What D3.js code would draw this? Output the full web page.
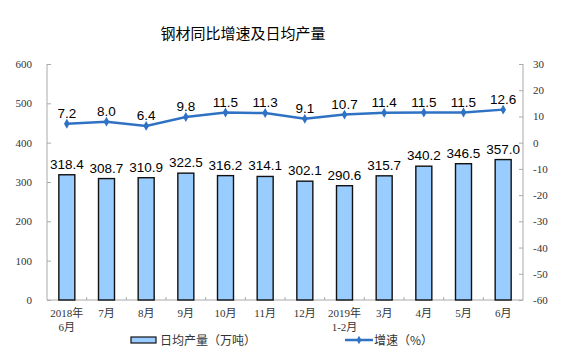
<!DOCTYPE html>
<html>
<head>
<meta charset="utf-8">
<script src="https://cdn.jsdelivr.net/npm/d3@7"></script>
<style>
  body { margin: 0; background: #fff; }
  .tick text { font-family: "Liberation Serif", "Noto Sans CJK SC", serif; font-size: 11px; fill: #333; }
  .val { font-family: "Liberation Sans", Arial, sans-serif; font-size: 13.5px; fill: #000; }
</style>
</head>
<body>
<div id="chart"></div>
<script>
var months = ["2018年|6月", "7月", "8月", "9月", "10月", "11月", "12月", "2019年|1-2月", "3月", "4月", "5月", "6月"];
var output = [318.4, 308.7, 310.9, 322.5, 316.2, 314.1, 302.1, 290.6, 315.7, 340.2, 346.5, 357.0];
var growth = [7.2, 8.0, 6.4, 9.8, 11.5, 11.3, 9.1, 10.7, 11.4, 11.5, 11.5, 12.6];
var leftTicks = [0, 100, 200, 300, 400, 500, 600];
var rightTicks = [-60, -50, -40, -30, -20, -10, 0, 10, 20, 30];

var width = 575, height = 359,
    plotLeft = 47, plotRight = 523, plotTop = 64, plotBottom = 300,
    lineColor = "#2f72c4";

var svg = d3.select("#chart").append("svg")
  .attr("width", width)
  .attr("height", height);

svg.append("text")
  .attr("x", 243).attr("y", 39)
  .attr("text-anchor", "middle")
  .style("font-family", "'Noto Sans CJK SC', sans-serif")
  .style("font-size", "15px")
  .text("钢材同比增速及日均产量");

var x = d3.scaleBand().domain(months).range([plotLeft, plotRight]);
var y = d3.scaleLinear().domain([0, 600]).range([plotBottom, plotTop]);
var y2 = d3.scaleLinear().domain([-60, 30]).range([plotBottom, plotTop]);

// axes
var yAxis = svg.append("g")
  .attr("transform", "translate(" + plotLeft + ",0)")
  .call(d3.axisLeft(y).tickValues(leftTicks).tickFormat(String).tickSize(-4).tickPadding(15));
var y2Axis = svg.append("g")
  .attr("transform", "translate(" + plotRight + ",0)")
  .call(d3.axisRight(y2).tickValues(rightTicks).tickFormat(String).tickSize(-4).tickPadding(14));
[yAxis, y2Axis].forEach(function(g) {
  g.select(".domain").attr("stroke", "#aaa").attr("d", "M0," + plotTop + "V" + plotBottom);
  g.selectAll(".tick line").attr("stroke", "#aaa");
});
y2Axis.selectAll(".tick text").attr("text-anchor", "start").attr("x", 10);

var xAxis = svg.append("g")
  .attr("transform", "translate(0," + plotBottom + ")");
xAxis.append("line")
  .attr("x1", plotLeft).attr("x2", plotRight)
  .attr("stroke", "#aaa");
xAxis.selectAll(".xt")
  .data(months.slice(1))
  .enter().append("line")
  .attr("x1", function(d) { return x(d); })
  .attr("x2", function(d) { return x(d); })
  .attr("y1", 0).attr("y2", -3)
  .attr("stroke", "#aaa");
xAxis.selectAll(".xl")
  .data(months)
  .enter().append("text")
  .attr("text-anchor", "middle")
  .style("font-family", "'Liberation Serif', 'Noto Sans CJK SC', serif")
  .style("font-size", "11px")
  .attr("fill", "#333")
  .each(function(d) {
    var t = d3.select(this), parts = d.split("|"), cx = x(d) + x.bandwidth() / 2;
    parts.forEach(function(p, i) {
      t.append("tspan").attr("x", cx).attr("y", 17 + i * 14).text(p);
    });
  });

// bars
var barW = 16;
svg.selectAll(".bar")
  .data(output)
  .enter().append("rect")
  .attr("class", "bar")
  .attr("x", function(d, i) { return x(months[i]) + x.bandwidth() / 2 - barW / 2; })
  .attr("y", function(d) { return y(d); })
  .attr("width", barW)
  .attr("height", function(d) { return plotBottom - y(d); })
  .attr("fill", "#99ccff")
  .attr("stroke", "#111")
  .attr("stroke-width", 1.4);

svg.selectAll(".bv")
  .data(output)
  .enter().append("text")
  .attr("class", "val")
  .attr("text-anchor", "middle")
  .attr("x", function(d, i) { return x(months[i]) + x.bandwidth() / 2; })
  .attr("y", function(d) { return y(d) - 6; })
  .text(function(d) { return d.toFixed(1); });

// line
var line = d3.line()
  .x(function(d, i) { return x(months[i]) + x.bandwidth() / 2; })
  .y(function(d) { return y2(d); });
svg.append("path")
  .datum(growth)
  .attr("d", line)
  .attr("fill", "none")
  .attr("stroke", lineColor)
  .attr("stroke-width", 2.5);

var diamond = d3.symbol().type(d3.symbolDiamond).size(28);
svg.selectAll(".pt")
  .data(growth)
  .enter().append("path")
  .attr("d", diamond)
  .attr("transform", function(d, i) {
    return "translate(" + (x(months[i]) + x.bandwidth() / 2) + "," + y2(d) + ")";
  })
  .attr("fill", lineColor);

svg.selectAll(".lv")
  .data(growth)
  .enter().append("text")
  .attr("class", "val")
  .attr("text-anchor", "middle")
  .attr("x", function(d, i) { return x(months[i]) + x.bandwidth() / 2; })
  .attr("y", function(d) { return y2(d) - 6; })
  .text(function(d) { return d.toFixed(1); });

// legend
var lg = svg.append("g").style("font-family", "'Noto Sans CJK SC', sans-serif").style("font-size", "12px");
lg.append("rect")
  .attr("x", 131).attr("y", 337).attr("width", 25).attr("height", 6)
  .attr("fill", "#99ccff").attr("stroke", "#111").attr("stroke-width", 1.2);
lg.append("text").attr("x", 160).attr("y", 345).attr("fill", "#333").text("日均产量（万吨）");
lg.append("line")
  .attr("x1", 345).attr("x2", 373).attr("y1", 340).attr("y2", 340)
  .attr("stroke", lineColor).attr("stroke-width", 2.5);
lg.append("path")
  .attr("d", d3.symbol().type(d3.symbolDiamond).size(20))
  .attr("transform", "translate(359,340)")
  .attr("fill", lineColor);
lg.append("text").attr("x", 374).attr("y", 345).attr("fill", "#333").text("增速（%）");
</script>
</body>
</html>
